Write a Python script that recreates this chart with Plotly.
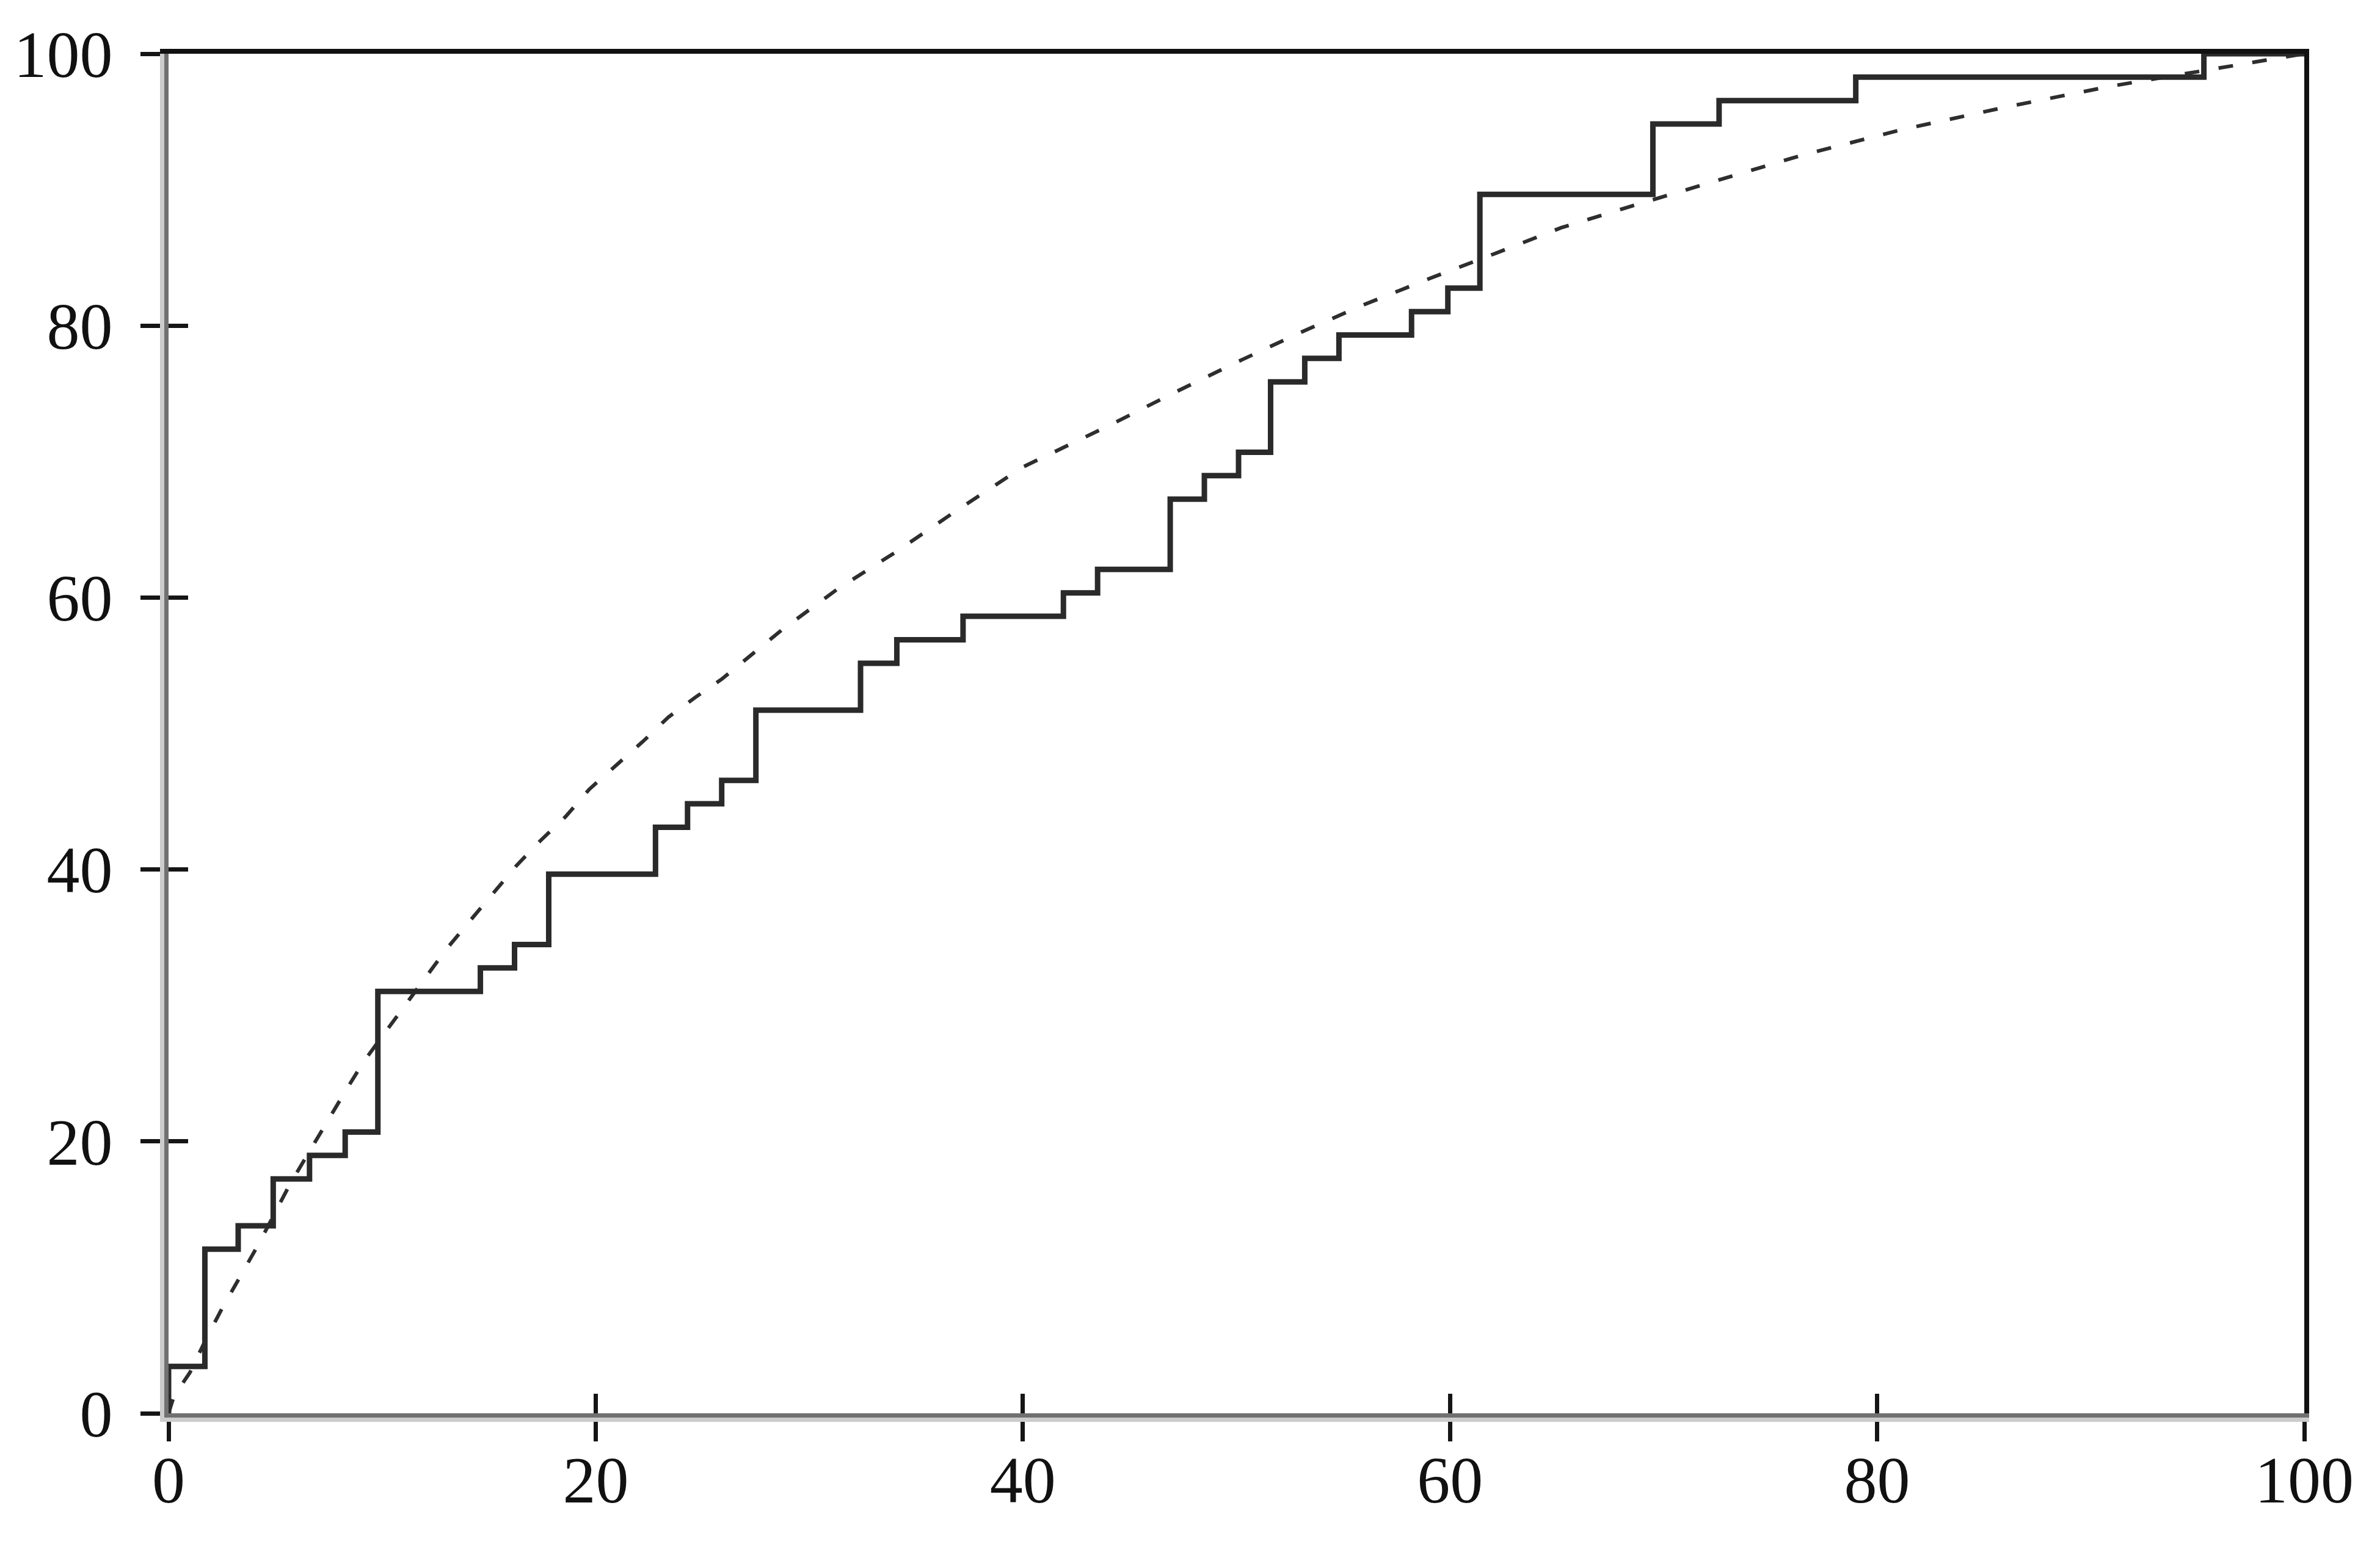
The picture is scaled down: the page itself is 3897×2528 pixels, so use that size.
import plotly.graph_objects as go

# Empirical step curve (x where the step rises, value after the rise)
step_x = [0, 0, 1.7, 3.26, 4.9, 6.6, 8.27, 9.8, 14.6, 16.2, 17.8, 22.8, 24.3, 25.9, 27.5,
          32.4, 34.1, 37.2, 41.9, 43.5, 46.9, 48.5, 50.1, 51.6, 53.2, 54.8, 58.2, 59.9,
          61.4, 69.5, 72.6, 79.0, 95.3, 100]
step_y = [0, 3.45, 12.07, 13.79, 17.24, 18.97, 20.69, 31.03, 32.76, 34.48, 39.66, 43.10,
          44.83, 46.55, 51.72, 55.17, 56.90, 58.62, 60.34, 62.07, 67.24, 68.97, 70.69,
          75.86, 77.59, 79.31, 81.03, 82.76, 89.66, 94.83, 96.55, 98.28, 100, 100]

# Smooth dashed reference curve
curve_x = [0, 0.25, 1.0, 1.8, 2.5, 3.35, 4.2, 5.7, 7.35, 8.32, 9.15, 10.2, 11.07, 12.1,
           13.04, 14.1, 15.2, 16.3, 17.4, 18.6, 19.7, 20.9, 22.2, 23.4, 24.7, 25.9, 28.7,
           31.3, 34.1, 36.8, 40.0, 44.1, 47.0, 50.0, 53.0, 55.9, 59.1, 62.1, 65.2, 68.3,
           71.7, 76.4, 81.1, 86.1, 90.9, 95.9, 100]
curve_y = [0, 1.25, 3.0, 5.6, 7.7, 10.0, 12.4, 16.9, 21.3, 23.8, 25.9, 28.1, 30.0, 32.2,
           34.2, 36.2, 38.2, 40.3, 42.1, 43.9, 45.9, 47.6, 49.4, 51.2, 52.7, 54.0, 57.6,
           60.6, 63.4, 66.3, 69.6, 72.7, 75.0, 77.3, 79.5, 81.5, 83.5, 85.3, 87.2, 88.7,
           90.3, 92.5, 94.4, 96.1, 97.6, 98.9, 100]

tick_vals = [0, 20, 40, 60, 80, 100]
tick_text = ["0", "20", "40", "60", "80", "100"]

FONT = dict(family="Liberation Serif, Times New Roman, serif", size=108, color="#111111")
TICK_COLOR = "#151515"

fig = go.Figure()

fig.add_trace(go.Scatter(
    x=curve_x, y=curve_y, mode="lines",
    line=dict(color="#2e2e2e", width=6, dash="24px,32px"),
    hoverinfo="skip", showlegend=False))

fig.add_trace(go.Scatter(
    x=step_x, y=step_y, mode="lines", line_shape="hv",
    line=dict(color="#2a2a2a", width=9),
    hoverinfo="skip", showlegend=False))

# invisible anchor traces for the overlay axes
for xa, ya in (("x2", "y2"), ("x3", "y3")):
    fig.add_trace(go.Scatter(x=[0], y=[0], xaxis=xa, yaxis=ya, mode="markers",
                             marker=dict(opacity=0), hoverinfo="skip", showlegend=False))

common = dict(range=[0, 100], tickvals=tick_vals, showgrid=False, zeroline=False,
              fixedrange=True, automargin=False)

fig.update_layout(
    width=3897, height=2528,
    margin=dict(l=268, r=132, t=80, b=222),
    paper_bgcolor="white", plot_bgcolor="white",
    font=FONT,
    xaxis=dict(**common, ticktext=tick_text, side="bottom",
               showline=True, linecolor="#cccccc", linewidth=14,
               ticks="outside", ticklen=32, tickwidth=7, tickcolor=TICK_COLOR,
               tickfont=FONT, ticklabelstandoff=-30),
    yaxis=dict(**common, ticktext=tick_text, side="left",
               showline=True, linecolor="#cccccc", linewidth=14,
               ticks="outside", ticklen=32, tickwidth=7, tickcolor=TICK_COLOR,
               tickfont=FONT, ticklabelstandoff=24),
    xaxis2=dict(**common, overlaying="x", side="bottom", anchor="y2",
                showline=True, linecolor="#707070", linewidth=7,
                ticks="inside", ticklen=32, tickwidth=7, tickcolor=TICK_COLOR,
                showticklabels=False),
    yaxis2=dict(**common, overlaying="y", side="left", anchor="x2",
                showline=True, linecolor="#707070", linewidth=7,
                ticks="inside", ticklen=32, tickwidth=7, tickcolor=TICK_COLOR,
                showticklabels=False),
    xaxis3=dict(**common, overlaying="x", side="top", anchor="y3",
                showline=True, linecolor="#111111", linewidth=8,
                ticks="", showticklabels=False),
    yaxis3=dict(**common, overlaying="y", side="right", anchor="x3",
                showline=True, linecolor="#111111", linewidth=8,
                ticks="", showticklabels=False),
)

fig.write_html("out.html")
